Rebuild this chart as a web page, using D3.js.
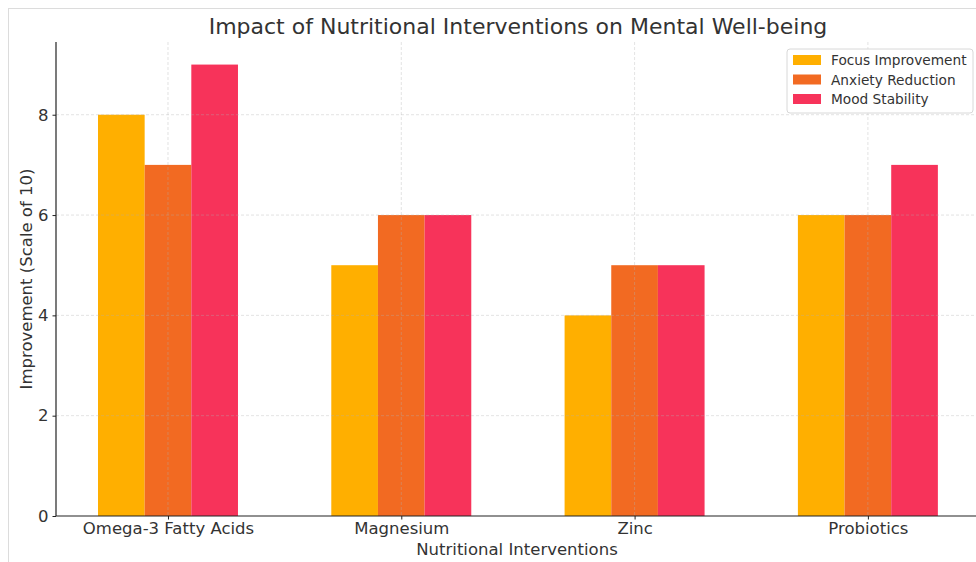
<!DOCTYPE html>
<html><head><meta charset="utf-8">
<script src="https://cdn.jsdelivr.net/npm/d3@7"></script>
<style>body{margin:0;background:#fff;}svg{display:block;font-family:"DejaVu Sans",sans-serif;}</style>
</head><body><svg id="c" width="976" height="562"></svg>
<script>
const categories = ["Omega-3 Fatty Acids", "Magnesium", "Zinc", "Probiotics"];
const seriesNames = ["Focus Improvement", "Anxiety Reduction", "Mood Stability"];
const focus = [8, 5, 4, 6];
const anxiety = [7, 6, 5, 6];
const mood = [9, 6, 5, 7];
const yTicks = [0, 2, 4, 6, 8];
const colors = ["#FFAF00", "#F26A22", "#F7335A"];

const series = [focus, anxiety, mood];
const svg = d3.select("#c");
const W = 976, H = 562;
const m = {l: 56, t: 42, b: 516};
// frame
svg.append("rect").attr("x", 8.5).attr("y", 8.5).attr("width", 1000).attr("height", 600)
  .attr("fill", "none").attr("stroke", "#dcdcdc").attr("stroke-width", 1);

const x = d3.scaleLinear().domain([-0.48, 3.48]).range([m.l, m.l + 3.96 * 233.3]);
const y = d3.scaleLinear().domain([0, 9.45]).range([m.b, m.t]);
const bw = 0.2;

const g = svg.append("g");
series.forEach((s, si) => {
  g.selectAll(null).data(s).enter().append("rect")
    .attr("x", (d, i) => x(i + (si - 1) * bw - bw / 2))
    .attr("width", x(bw) - x(0))
    .attr("y", d => y(d))
    .attr("height", d => y(0) - y(d))
    .attr("fill", colors[si]);
});

// grid
const grid = svg.append("g").attr("stroke", "#b0b0b0").attr("stroke-opacity", 0.45)
  .attr("stroke-dasharray", "3,2").attr("stroke-width", 0.8);
yTicks.forEach(t => { if (t > 0) grid.append("line").attr("x1", m.l).attr("x2", W).attr("y1", y(t)).attr("y2", y(t)); });
categories.forEach((c, i) => grid.append("line").attr("x1", x(i)).attr("x2", x(i)).attr("y1", m.t).attr("y2", m.b));

// axes
const yAxis = d3.axisLeft(y).tickValues(yTicks).tickSize(3.5).tickPadding(4);
const ya = svg.append("g").attr("transform", `translate(${m.l},0)`).call(yAxis);
const xAxis = d3.axisBottom(x).tickValues(d3.range(categories.length)).tickFormat(i => categories[i]).tickSize(3.5).tickPadding(3);
const xa = svg.append("g").attr("transform", `translate(0,${m.b})`).call(xAxis);
[ya, xa].forEach(a => {
  a.select(".domain").attr("stroke", "#222").attr("stroke-width", 1.2);
  a.selectAll(".tick line").attr("stroke", "#222");
  a.selectAll("text").attr("fill", "#333").attr("font-size", "16.5px").attr("font-family", "DejaVu Sans");
});
xa.select(".domain").attr("d", `M${m.l},0H${W}`);
ya.select(".domain").attr("d", `M0,${m.t}V${m.b}`);

svg.append("text").attr("x", 518).attr("y", 34).attr("text-anchor", "middle")
  .attr("font-size", "22px").attr("fill", "#333").text("Impact of Nutritional Interventions on Mental Well-being");
svg.append("text").attr("x", 517).attr("y", 555).attr("text-anchor", "middle")
  .attr("font-size", "16.5px").attr("fill", "#333").text("Nutritional Interventions");
svg.append("text").attr("transform", "translate(32,279) rotate(-90)").attr("text-anchor", "middle")
  .attr("font-size", "16.5px").attr("fill", "#333").text("Improvement (Scale of 10)");

// legend
const lg = svg.append("g").attr("transform", "translate(787,49)");
lg.append("rect").attr("width", 186).attr("height", 64).attr("rx", 3).attr("fill", "#fff")
  .attr("fill-opacity", 0.85).attr("stroke", "#d8d8d8");
seriesNames.forEach((n, i) => {
  lg.append("rect").attr("x", 6).attr("y", 6 + i * 19.5).attr("width", 28).attr("height", 10).attr("fill", colors[i]);
  lg.append("text").attr("x", 44).attr("y", 16 + i * 19.5).attr("font-size", "13.7px").attr("fill", "#333").text(n);
});
</script></body></html>
